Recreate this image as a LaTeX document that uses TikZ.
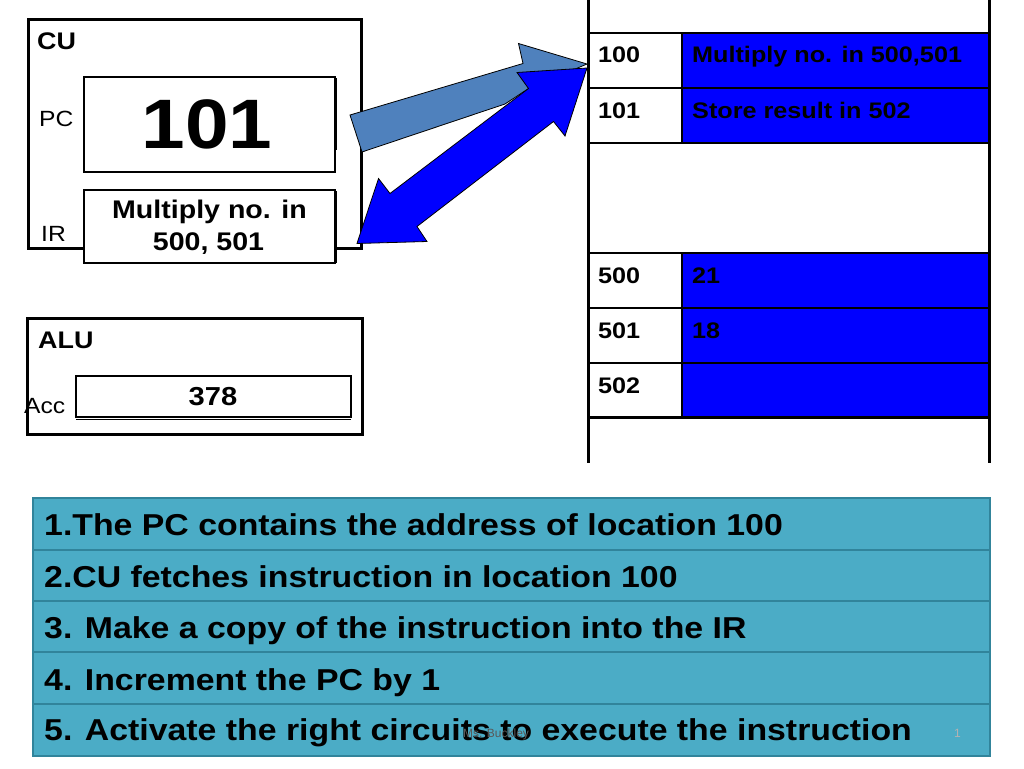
\documentclass[tikz,border=0pt]{standalone}
\usepackage{fontspec}
\newfontfamily\slidefont[FakeStretch=1.12]{Liberation Sans}
\newfontfamily\footfont{Liberation Sans}
\newcommand\fsz[1]{\fontsize{#1}{#1}\selectfont}
\definecolor{steelarrow}{RGB}{79,129,189}
\definecolor{purblue}{RGB}{0,0,255}
\definecolor{listfill}{RGB}{75,172,198}
\definecolor{listline}{RGB}{49,132,155}
\begin{document}
\begin{tikzpicture}[x=1pt,y=-1pt,
  box/.style={draw=black, fill=white, inner sep=0pt, outer sep=0pt, anchor=north west},
  unit/.style={box, line width=3pt},
  reg/.style={box, line width=1.5pt},
  lbl/.style={inner sep=0pt, anchor=base west, font=\slidefont\fsz{22}},
  hd/.style={inner sep=0pt, anchor=base west, font=\slidefont\bfseries\fsz{24}},
  memtxt/.style={inner sep=0pt, anchor=base west, font=\slidefont\bfseries\fsz{22.5}},
  steptxt/.style={inner sep=0pt, anchor=base west, font=\slidefont\bfseries\fsz{30.2}},
  arrowshape/.style={draw=black, line width=0.8pt, line join=miter},
  memline/.style={draw=black, line width=1.5pt},
  memwall/.style={draw=black, line width=3pt}]
\useasboundingbox (0,0) rectangle (1024,768);

% ---------------- CU ----------------
\node[unit, minimum width=333pt, minimum height=228pt] (cu) at (28,20) {};
\node[hd] (culbl) at (37,49.5) {CU};
\node[reg, minimum width=251pt, minimum height=95pt] (pc) at (84,77) {};
\draw[line width=2pt] (336,78) -- (336,150);
\node[inner sep=0pt, anchor=base, font=\slidefont\bfseries\fsz{70}] (pcval) at (207,148) {101};
\node[lbl] (pclbl) at (39,126) {PC};
\node[reg, minimum width=251pt, minimum height=73pt] (ir) at (84,190) {};
\draw[line width=2pt] (336,191) -- (336,263);
\node[inner sep=0pt, anchor=base, font=\slidefont\bfseries\fsz{25.5}] (irval1) at (209.5,218) {Multiply no. in};
\node[inner sep=0pt, anchor=base, font=\slidefont\bfseries\fsz{25.5}] (irval2) at (208.5,250) {500, 501};
\node[lbl] (irlbl) at (41,241.5) {IR};

% ---------------- ALU ----------------
\node[unit, minimum width=335pt, minimum height=116pt] (alu) at (27,318) {};
\node[hd] (alulbl) at (38,348.5) {ALU};
\node[reg, minimum width=275pt, minimum height=41pt] (acc) at (76,376) {};
\draw[line width=1.2pt] (76,419.5) -- (351,419.5);
\node[inner sep=0pt, anchor=base, font=\slidefont\bfseries\fsz{26}] (accval) at (213,405) {378};
\node[lbl] (acclbl) at (24,413) {Acc};

% ---------------- Memory ----------------
\fill[purblue] (682,33) rectangle (989,143);
\fill[purblue] (682,253) rectangle (989,417);
\foreach \yy in {33,88,143,253,308,363} {
  \draw[memline] (588,\yy) -- (989,\yy);
}
\draw[memwall] (588,417) -- (989,417);
\draw[memline] (682,33) -- (682,143);
\draw[memline] (682,253) -- (682,417);
\draw[memwall] (588,0) -- (588,463);
\draw[memwall] (989,0) -- (989,463);
\node[memtxt] (a100) at (598,63) {100};
\node[memtxt] (a101) at (598,118) {101};
\node[memtxt] (a500) at (598,283) {500};
\node[memtxt] (a501) at (598,338) {501};
\node[memtxt] (a502) at (598,393) {502};
\node[memtxt] (c100) at (692,63) {Multiply no. in 500,501};
\node[memtxt] (c101) at (692,118) {Store result in 502};
\node[memtxt] (c500) at (692,283) {21};
\node[memtxt] (c501) at (692,338) {18};

% ---------------- Arrows ----------------
\filldraw[arrowshape, fill=steelarrow]
  (350,115) -- (523,63.5) -- (518.5,43.5) -- (587,64) -- (527,89.5) -- (505,104) -- (362,152) -- cycle;
\filldraw[arrowshape, fill=purblue]
  (587,68) -- (565,136) -- (553.5,121.5) -- (417,226.5) -- (427,241.5) -- (357,243.5)
  -- (378.5,178.5) -- (390,193.5) -- (528.5,88.5) -- (517,72.5) -- cycle;

% ---------------- Steps list ----------------
\node[box, draw=listline, fill=listfill, line width=2pt, minimum width=957pt, minimum height=258pt] (steps) at (33,498) {};
\foreach \yy in {550,601,652,704} {
  \draw[listline, line width=2pt] (33,\yy) -- (990,\yy);
}
\node[steptxt] (s1) at (44,535) {1.The PC contains the address of location 100};
\node[steptxt] (s2) at (44,587) {2.CU fetches instruction in location 100};
\node[steptxt] (s3) at (44,638.5) {3. Make a copy of the instruction into the IR};
\node[steptxt] (s4) at (44,690) {4. Increment the PC by 1};
\node[steptxt] (s5) at (44,740) {5. Activate the right circuits to execute the instruction};
\node[inner sep=0pt, anchor=base west, font=\footfont\fsz{12}, text=black!65] (foot) at (463,737) {Ms. Buckley};
\node[inner sep=0pt, anchor=base west, font=\footfont\fsz{12}, text=black!30] (pnum) at (954,737) {1};
\end{tikzpicture}
\end{document}
